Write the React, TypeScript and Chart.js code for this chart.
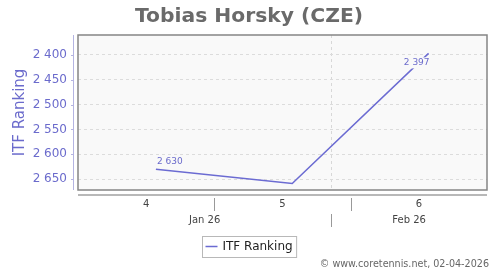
import React, { useEffect, useRef } from "react";
import { Chart, registerables } from "chart.js";

Chart.register(...registerables);

const TITLE = "Tobias Horsky (CZE)";
const SERIES_LABEL = "ITF Ranking";
const pointDates = ["2026-01-23", "2026-01-30", "2026-02-06"];
const rankings = [2630, 2659, 2397];
const yTicks = [2400, 2450, 2500, 2550, 2600, 2650];
const yMin = 2360;
const yMax = 2672;
const weekLabels = ["4", "5", "6"];
const weekBounds = ["2026-01-19", "2026-01-26", "2026-02-02", "2026-02-09"];
const monthLabels = ["Jan 26", "Feb 26"];
const monthBounds = ["2026-01-19", "2026-02-01", "2026-02-09"];
const COPYRIGHT = "\u00a9 www.coretennis.net, 02-04-2026";

const dayOf = (s: string) => Date.parse(s + "T00:00:00Z") / 86400000;
const fmt = (v: number) => String(v).replace(/\B(?=(\d{3})+(?!\d))/g, " ");

const FONT = "'DejaVu Sans', Verdana, sans-serif";
const LINE = "#6b6bd2";
const PURPLE = "#6b6bcc";

export default function App() {
  const ref = useRef<HTMLCanvasElement | null>(null);
  useEffect(() => {
    document.body.style.margin = "0";
    const canvas = ref.current!;
    const xMin = dayOf(weekBounds[0]);
    const xMax = dayOf(weekBounds[weekBounds.length - 1]);

    const decor = {
      id: "decor",
      beforeDraw(chart: any) {
        const { ctx, chartArea: a } = chart;
        ctx.save();
        ctx.fillStyle = "#f9f9f9";
        ctx.fillRect(a.left, a.top, a.right - a.left, a.bottom - a.top);
        ctx.restore();
      },
      afterDraw(chart: any) {
        const { ctx, chartArea: a } = chart;
        const xs = chart.scales.x;
        const ys = chart.scales.y;
        ctx.save();
        // title
        ctx.font = "bold 20.3px " + FONT;
        ctx.fillStyle = "#6a6a6a";
        ctx.textAlign = "center";
        ctx.textBaseline = "alphabetic";
        ctx.fillText(TITLE, 249, 22);
        // frame
        ctx.strokeStyle = "#858585";
        ctx.lineWidth = 1.5;
        ctx.strokeRect(a.left, a.top, a.right - a.left, a.bottom - a.top);
        // y axis line
        ctx.strokeStyle = "#b4b4e2";
        ctx.lineWidth = 1;
        ctx.beginPath();
        ctx.moveTo(a.left - 4.5, a.top);
        ctx.lineTo(a.left - 4.5, a.bottom);
        ctx.stroke();
        // y tick marks
        yTicks.forEach((v) => {
          const y = Math.round(ys.getPixelForValue(v)) + 0.5;
          ctx.beginPath();
          ctx.moveTo(a.left - 7, y);
          ctx.lineTo(a.left - 4.5, y);
          ctx.stroke();
        });
        // x axis line
        const axisY = a.bottom + 5;
        ctx.strokeStyle = "#a0a0a0";
        ctx.lineWidth = 1.5;
        ctx.beginPath();
        ctx.moveTo(a.left, axisY);
        ctx.lineTo(a.right, axisY);
        ctx.stroke();
        // week separators & labels
        ctx.lineWidth = 1;
        ctx.strokeStyle = "#999";
        ctx.fillStyle = "#444";
        ctx.font = "10px " + FONT;
        ctx.textAlign = "center";
        ctx.textBaseline = "middle";
        weekBounds.forEach((d, i) => {
          if (i > 0 && i < weekBounds.length - 1) {
            const x = Math.round(xs.getPixelForValue(dayOf(d))) + 0.5;
            ctx.beginPath();
            ctx.moveTo(x, axisY + 3);
            ctx.lineTo(x, axisY + 16);
            ctx.stroke();
          }
          if (i < weekLabels.length) {
            const c = (dayOf(d) + dayOf(weekBounds[i + 1])) / 2;
            ctx.fillText(weekLabels[i], xs.getPixelForValue(c), axisY + 9.5);
          }
        });
        monthBounds.forEach((d, i) => {
          if (i > 0 && i < monthBounds.length - 1) {
            const x = Math.round(xs.getPixelForValue(dayOf(d))) + 0.5;
            ctx.beginPath();
            ctx.moveTo(x, axisY + 19);
            ctx.lineTo(x, axisY + 32);
            ctx.stroke();
          }
          if (i < monthLabels.length) {
            const c = (dayOf(d) + dayOf(monthBounds[i + 1])) / 2;
            ctx.fillText(monthLabels[i], xs.getPixelForValue(c), axisY + 25.5);
          }
        });
        // data labels
        const meta = chart.getDatasetMeta(0);
        ctx.font = "9px " + FONT;
        const labelIdx = [0, rankings.length - 1];
        labelIdx.forEach((i) => {
          const p = meta.data[i];
          const t = fmt(rankings[i]);
          const w = ctx.measureText(t).width;
          if (i === 0) {
            ctx.textAlign = "left";
            ctx.textBaseline = "bottom";
            ctx.fillStyle = PURPLE;
            ctx.fillText(t, p.x + 1, p.y - 3);
          } else {
            ctx.fillStyle = "#f9f9f9";
            ctx.fillRect(p.x - w - 1, p.y + 4, w + 2, 11);
            ctx.textAlign = "right";
            ctx.textBaseline = "top";
            ctx.fillStyle = PURPLE;
            ctx.fillText(t, p.x + 1, p.y + 5);
          }
        });
        // legend
        ctx.font = "12px " + FONT;
        const lw = ctx.measureText(SERIES_LABEL).width;
        const boxW = lw + 24;
        const bx = Math.round(249 - boxW / 2) + 0.5;
        const by = 236.5;
        ctx.strokeStyle = "#b8b8b8";
        ctx.lineWidth = 1;
        ctx.strokeRect(bx, by, boxW, 21);
        ctx.strokeStyle = LINE;
        ctx.lineWidth = 1.5;
        ctx.beginPath();
        ctx.moveTo(bx + 3, by + 10);
        ctx.lineTo(bx + 15, by + 10);
        ctx.stroke();
        ctx.fillStyle = "#222";
        ctx.textAlign = "left";
        ctx.textBaseline = "middle";
        ctx.fillText(SERIES_LABEL, bx + 20, by + 10.5);
        // copyright
        ctx.font = "9.6px " + FONT;
        ctx.fillStyle = "#666";
        ctx.textAlign = "right";
        ctx.fillText(COPYRIGHT, 489, 264);
        ctx.restore();
      },
    };

    const chart = new Chart(canvas, {
      type: "line",
      data: {
        datasets: [
          {
            label: SERIES_LABEL,
            data: pointDates.map((d, i) => ({ x: dayOf(d), y: rankings[i] })),
            borderColor: LINE,
            backgroundColor: LINE,
            borderWidth: 1.5,
            pointRadius: 0,
            tension: 0,
          },
        ],
      },
      options: {
        responsive: false,
        animation: false,
        layout: { padding: { left: 0, right: 13, top: 35, bottom: 0 } },
        plugins: {
          legend: { display: false },
          tooltip: { enabled: false },
          title: { display: false },
        },
        scales: {
          x: {
            type: "linear",
            min: xMin,
            max: xMax,
            afterFit: (s: any) => {
              s.height = 80;
            },
            afterBuildTicks: (s: any) => {
              s.ticks = monthBounds.slice(1, -1).map((d) => ({ value: dayOf(d) }));
            },
            ticks: { display: false },
            grid: { color: "#d8d8d8", drawTicks: false, lineWidth: 1 },
            border: { display: false, dash: [3, 3] },
          },
          y: {
            reverse: true,
            min: yMin,
            max: yMax,
            afterFit: (s: any) => {
              s.width = 78;
            },
            afterBuildTicks: (s: any) => {
              s.ticks = yTicks.map((v) => ({ value: v }));
            },
            ticks: {
              color: PURPLE,
              font: { family: FONT, size: 12 },
              padding: 11,
              callback: (v: any) => fmt(Number(v)),
            },
            grid: { color: "#dcdcdc", drawTicks: false, lineWidth: 1 },
            border: { display: false, dash: [3, 3] },
            title: {
              display: true,
              text: SERIES_LABEL,
              color: PURPLE,
              font: { family: FONT, size: 15 },
              padding: { top: 11, bottom: 0 },
            },
          },
        },
      },
      plugins: [decor],
    });
    return () => chart.destroy();
  }, []);

  return (
    <div style={{ width: 500, height: 270 }}>
      <canvas ref={ref} width={500} height={270} />
    </div>
  );
}
